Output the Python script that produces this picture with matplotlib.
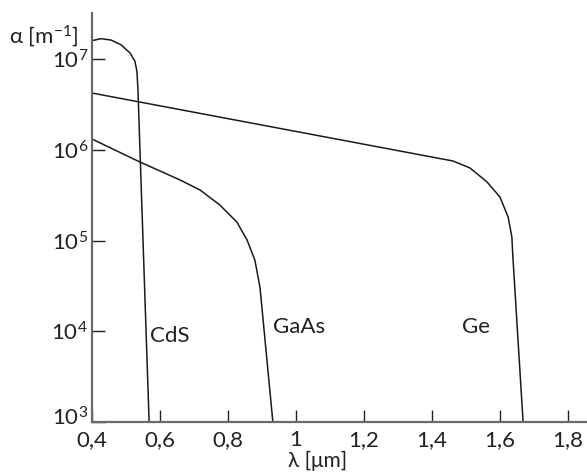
import numpy as np
import matplotlib
matplotlib.use("Agg")
import matplotlib.pyplot as plt
import matplotlib.transforms as mtransforms

# ── fonts ────────────────────────────────────────────────────────────────────
plt.rcParams["font.family"] = ["Lato", "DejaVu Sans"]
plt.rcParams["mathtext.fontset"] = "custom"
plt.rcParams["mathtext.rm"] = "Lato"
plt.rcParams["mathtext.default"] = "regular"

# ── data (log10 of alpha) ────────────────────────────────────────────────────
cds_lam   = [0.400, 0.426, 0.456, 0.485, 0.512, 0.526, 0.532, 0.535, 0.568]
cds_logA  = [7.202, 7.224, 7.209, 7.158, 7.066, 6.978, 6.868, 6.680, 3.0]

gaas_lam  = [0.400, 0.541, 0.659, 0.718, 0.776, 0.826, 0.856, 0.879, 0.894, 0.932]
gaas_logA = [6.118, 5.865, 5.667, 5.556, 5.391, 5.204, 5.006, 4.785, 4.488, 3.0]

ge_lam    = [0.400, 1.462, 1.512, 1.562, 1.600, 1.624, 1.635, 1.638, 1.668]
ge_logA   = [6.625, 5.876, 5.799, 5.645, 5.479, 5.259, 5.039, 4.818, 3.0]

x_ticks  = [0.4, 0.6, 0.8, 1.0, 1.2, 1.4, 1.6, 1.8]
x_labels = ["0,4", "0,6", "0,8", "1", "1,2", "1,4", "1,6", "1,8"]
y_exps   = [3, 4, 5, 6, 7]

labels = {"CdS": (0.628, 3.95), "GaAs": (1.010, 4.05), "Ge": (1.530, 4.05)}

# ── figure ───────────────────────────────────────────────────────────────────
fig = plt.figure(figsize=(5.87, 4.72), dpi=100)
ax = fig.add_axes([92 / 587, 50 / 472, 1 - 92 / 587, (422 - 13) / 472])

line_kw = dict(color="#1a1a1a", lw=1.1, solid_joinstyle="round")
for lam, loga in [(cds_lam, cds_logA), (gaas_lam, gaas_logA), (ge_lam, ge_logA)]:
    ax.plot(lam, 10 ** np.array(loga), **line_kw)

ax.set_yscale("log")
ax.set_xlim(0.4, 1.856)
ax.set_ylim(1e3, 10 ** 7.507)

ax.set_xticks(x_ticks)
ax.set_xticklabels(x_labels)
ax.set_yticks([10.0 ** e for e in y_exps])
ax.set_yticklabels([])
ax.yaxis.set_minor_locator(matplotlib.ticker.NullLocator())

ax.tick_params(direction="in", length=9, width=1.0, color="#222222",
               labelsize=16, labelcolor="#222222")
ax.tick_params(axis="x", pad=6)

# y tick labels drawn by hand so their vertical placement can follow the reference
ytrans = mtransforms.blended_transform_factory(ax.transAxes, ax.transData)
for e in y_exps:
    if e == 3:
        tr = mtransforms.offset_copy(ytrans, fig=fig, x=-4, y=-4, units="dots")
        va = "baseline"
    else:
        tr = mtransforms.offset_copy(ytrans, fig=fig, x=-4, y=-2, units="dots")
        va = "center"
    ax.text(0, 10.0 ** e, f"10$^{{{e}}}$", transform=tr, fontsize=16,
            color="#222222", ha="right", va=va, clip_on=False)

for s in ["top", "right"]:
    ax.spines[s].set_visible(False)
for s in ["left", "bottom"]:
    ax.spines[s].set_color("#6a6a6a")
    ax.spines[s].set_linewidth(1.6)

for name, (x, ly) in labels.items():
    ax.text(x, 10 ** ly, name, fontsize=16, color="#222222",
            ha="center", va="center")

fig.text(44 / 587, 1 - 36 / 472, "α [m$^{-1}$]", fontsize=16,
         color="#222222", ha="center", va="center")
fig.text(318 / 587, 5 / 472, "λ [μm]", fontsize=15,
         color="#222222", ha="center", va="baseline")

fig.savefig("out.png", dpi=100)
